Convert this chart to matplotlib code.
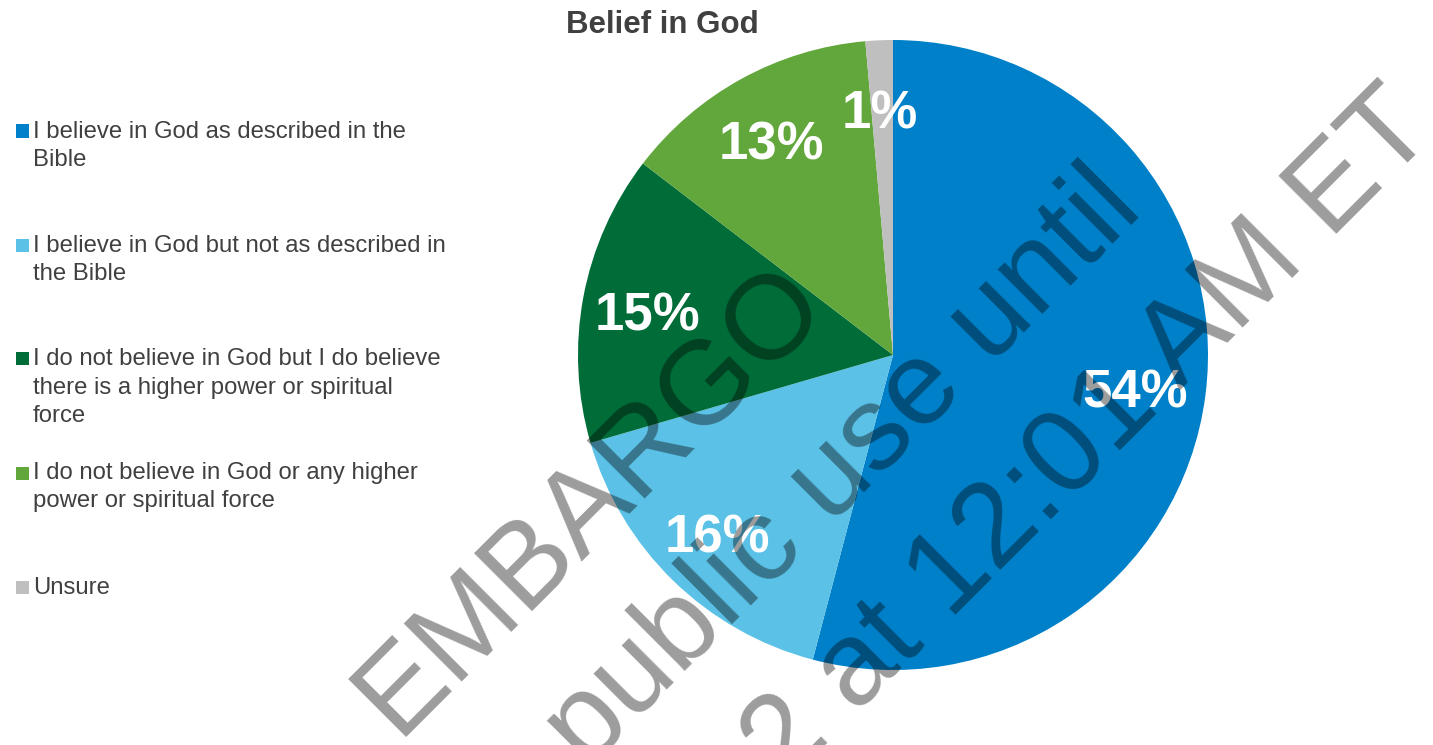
import matplotlib
matplotlib.use('Agg')
import matplotlib.pyplot as plt
import matplotlib.transforms as mtransforms
from matplotlib.patches import Rectangle

plt.rcParams['font.family'] = ['Liberation Sans', 'DejaVu Sans']

W, H = 1433, 745

title = 'Belief in God'
categories = [
    'I believe in God as described in the\nBible',
    'I believe in God but not as described in\nthe Bible',
    'I do not believe in God but I do believe\nthere is a higher power or spiritual\nforce',
    'I do not believe in God or any higher\npower or spiritual force',
    'Unsure',
]
values = [54.1, 16.4, 14.9, 13.2, 1.4]
colors = ['#0080C8', '#5BC1E6', '#006C38', '#62A73B', '#BFBFBF']

watermark_lines = ['EMBARGO', 'public use until', '2 at 12:01 AM ET']


def fx(px):
    return px / W


def fy(py):
    return 1 - py / H


fig = plt.figure(figsize=(W / 100, H / 100), dpi=100)

# pie: centre (893, 355), radius 315 px
cx, cy, r = 893, 355, 315
ax = fig.add_axes([fx(cx - r), fy(cy + r), 2 * r / W, 2 * r / H])
wedges, texts, autotexts = ax.pie(
    values, colors=colors, startangle=90, counterclock=False,
    autopct=lambda p: '{:.0f}%'.format(p), pctdistance=0.785,
    wedgeprops=dict(linewidth=0),
    textprops=dict(color='white', fontsize=38, fontweight='bold'))
# nudge the percentage labels down a little
for t in autotexts:
    t.set_transform(mtransforms.offset_copy(ax.transData, fig=fig, x=-2, y=-5, units='points'))
ax.set_xlim(-1, 1)
ax.set_ylim(-1, 1)
ax.set_aspect('equal')
ax.axis('off')

fig.text(fx(662), fy(33), title, ha='center', va='baseline',
         fontsize=22.5, fontweight='bold', color='#404040')

# legend, one entry every 114 px, wrapped lines 28 px apart
for i, (lab, col) in enumerate(zip(categories, colors)):
    base = 137.5 + 114 * i
    fig.patches.append(Rectangle((fx(16), fy(base)), 13 / W, 13 / H,
                                 transform=fig.transFigure, facecolor=col,
                                 edgecolor='none'))
    for j, line in enumerate(lab.split('\n')):
        fig.text(fx(33), fy(base + 28 * j), line, ha='left', va='baseline',
                 fontsize=17.2, color='#404040')

# watermark (dark overlay reads as multiply over the pie)
starts = [(397, 737), (586, 770), (785, 785)]
for txt, (px, py) in zip(watermark_lines, starts):
    fig.text(fx(px), fy(py), txt, rotation=45, rotation_mode='anchor',
             ha='left', va='baseline', fontsize=86, color='black',
             alpha=0.39, zorder=10)

fig.savefig('out.png', dpi=100, facecolor='white')
